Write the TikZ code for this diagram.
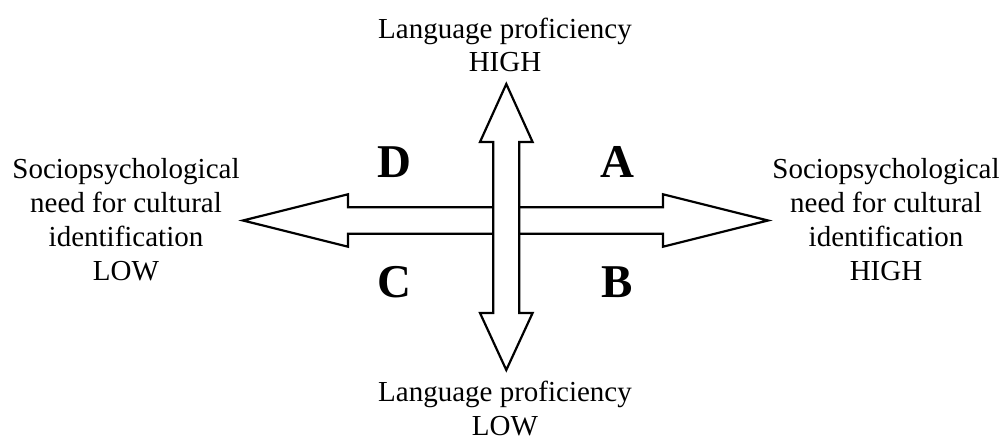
\documentclass[tikz,border=0pt]{standalone}
\usepackage{fontspec}
\setmainfont{Liberation Serif}
\begin{document}
\begin{tikzpicture}[x=1pt,y=-1pt,
  arrowshape/.style={draw=black,fill=white,line width=2.2pt,line join=miter},
  label/.style={inner sep=0pt,align=center,font=\fontsize{29}{33.8}\selectfont,anchor=base},
  quad/.style={inner sep=0pt,anchor=base,font=\fontsize{47}{50}\selectfont\bfseries}]
\useasboundingbox (0,0) rectangle (1005,441);
% horizontal double arrow
\draw[arrowshape] (243,220.5) -- (348,194.3) -- (348,207.3) -- (663,207.3) -- (663,194.3)
  -- (768,220.5) -- (663,246.7) -- (663,233.7) -- (348,233.7) -- (348,246.7) -- cycle;
% vertical double arrow
\draw[arrowshape] (506.3,84) -- (532.6,142) -- (519.3,142) -- (519.3,313) -- (532.6,313)
  -- (506.3,370) -- (480,313) -- (493.3,313) -- (493.3,142) -- (480,142) -- cycle;
\node[label] (top) at (505,72) {Language proficiency\\HIGH};
\node[label] (bottom) at (505,435) {Language proficiency\\LOW};
\node[label] (left) at (126,280) {Sociopsychological\\need for cultural\\identification\\LOW};
\node[label] (right) at (886,280) {Sociopsychological\\need for cultural\\identification\\HIGH};
\node[quad] (D) at (394,177.5) {D};
\node[quad] (A) at (617,177.5) {A};
\node[quad] (C) at (394,298) {C};
\node[quad] (B) at (617,298) {B};
\end{tikzpicture}
\end{document}
